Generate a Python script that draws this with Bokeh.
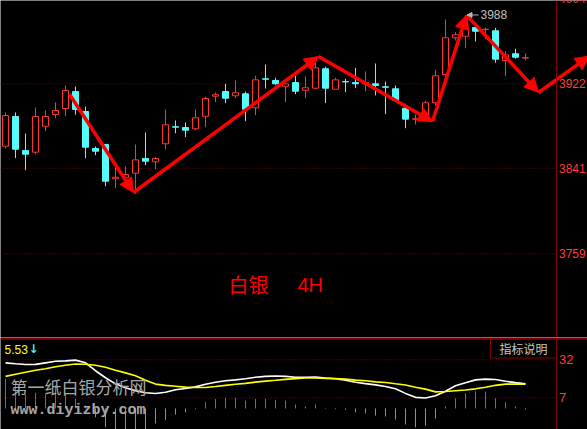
from bokeh.plotting import figure
from bokeh.layouts import column
from bokeh.models import Range1d, Span, Label, Arrow, NormalHead, ColumnDataSource
from bokeh.core.properties import value
from bokeh.embed import file_html
from bokeh.resources import INLINE

# ---- silver, 4-hour candles -------------------------------------------------
opens = [3862.2, 3890.6, 3858.0, 3856.4, 3881.3, 3892.6, 3898.3, 3914.6, 3895.4, 3860.0,
         3863.8, 3830.9, 3831.9, 3836.3, 3850.4, 3847.2, 3864.5, 3880.8, 3880.1, 3878.9,
         3890.9, 3910.1, 3914.6, 3910.5, 3912.4, 3899.0, 3926.8, 3925.2, 3919.7, 3923.2,
         3915.9, 3917.8, 3936.4, 3916.8, 3924.2, 3923.2, 3922.0, 3922.0, 3919.1, 3917.2,
         3898.6, 3888.0, 3891.6, 3903.8, 3930.9, 3966.1, 3967.6, 3976.0, 3973.9, 3972.8,
         3944.3, 3950.8, 3946.7]
highs = [3894.5, 3894.5, 3874.3, 3899.3, 3896.4, 3904.1, 3920.4, 3919.4, 3900.2, 3861.9,
         3864.5, 3842.0, 3842.7, 3863.8, 3875.3, 3851.6, 3897.4, 3886.8, 3884.9, 3897.4,
         3909.8, 3913.7, 3922.0, 3925.2, 3914.6, 3929.7, 3940.5, 3927.8, 3922.6, 3929.7,
         3929.0, 3944.3, 3938.3, 3927.8, 3926.8, 3937.3, 3933.8, 3941.5, 3924.2, 3920.4,
         3902.8, 3892.6, 3905.7, 3935.4, 3983.7, 3971.5, 3988.0, 3976.5, 3976.0, 3975.7,
         3953.3, 3955.6, 3951.3]
lows = [3860.0, 3850.7, 3839.2, 3854.5, 3876.6, 3889.0, 3890.9, 3892.3, 3850.7, 3853.5,
        3823.8, 3821.9, 3827.1, 3816.5, 3844.0, 3840.1, 3859.3, 3874.6, 3870.8, 3877.5,
        3880.4, 3904.4, 3903.4, 3908.2, 3886.1, 3891.9, 3917.5, 3921.0, 3904.4, 3912.0,
        3908.2, 3916.8, 3903.4, 3916.5, 3913.9, 3917.8, 3914.9, 3910.8, 3892.9, 3905.0,
        3879.4, 3883.0, 3886.8, 3901.2, 3928.3, 3963.5, 3956.1, 3962.6, 3965.1, 3942.1,
        3929.3, 3946.0, 3944.3]
closes = [3891.6, 3859.3, 3854.5, 3890.6, 3890.6, 3896.4, 3915.6, 3897.4, 3861.2, 3857.4,
          3828.6, 3832.4, 3835.0, 3849.1, 3847.8, 3850.4, 3882.7, 3880.4, 3877.5, 3889.4,
          3907.9, 3911.5, 3908.2, 3913.4, 3897.6, 3925.8, 3926.4, 3922.0, 3922.0, 3914.9,
          3918.2, 3937.3, 3917.8, 3925.8, 3923.8, 3922.0, 3923.2, 3920.4, 3918.7, 3906.0,
          3888.1, 3888.5, 3903.8, 3929.7, 3966.1, 3969.0, 3976.0, 3972.4, 3974.3, 3945.6,
          3949.8, 3947.5, 3947.1]

price_ticks = [3759, 3841, 3922, 4004]

# swing (zigzag) pivots: bar position, price
zz_x = [6.4, 12.8, 31.3, 42.7, 46.1, 53.3, 58.4]
zz_y = [3912.0, 3817.8, 3948.2, 3885.8, 3988.0, 3913.7, 3948.6]

# ---- oscillator panel ---------------------------------------------------------
osc_fast = [30.0, 29.4, 28.9, 29.0, 30.0, 31.0, 31.3, 31.8, 30.0, 24.8,
            20.2, 16.2, 13.6, 11.6, 10.3, 9.8, 10.6, 12.3, 13.1, 14.2,
            15.9, 17.2, 18.2, 18.8, 19.5, 20.5, 21.1, 21.3, 21.1, 20.5,
            20.5, 20.6, 20.0, 19.5, 18.5, 17.2, 16.3, 15.5, 14.4, 12.9,
            9.9, 7.3, 6.9, 8.3, 11.3, 14.9, 16.9, 18.8, 19.3, 19.0,
            17.9, 17.0, 16.2]
osc_slow = [21.1, 22.5, 23.8, 25.1, 26.1, 27.4, 28.4, 29.2, 29.1, 28.4,
            27.1, 25.1, 23.4, 21.5, 18.5, 16.0, 15.2, 14.6, 14.0, 13.8,
            13.8, 14.4, 15.2, 15.9, 16.5, 17.3, 18.0, 18.5, 19.1, 19.6,
            20.0, 20.0, 19.8, 19.6, 19.3, 18.6, 18.2, 17.5, 17.1, 16.2,
            15.4, 13.9, 12.7, 10.9, 11.1, 11.6, 12.1, 12.9, 13.9, 15.2,
            16.0, 16.0, 16.0]
osc_hist = [19.5, 17.2, 9.1, 10.3, 9.1, 15.1, 9.6, 6.3, 2.0, -5.8,
            -12.4, -17.0, -19.0, -19.5, -17.5, -9.9, -7.5, -4.0, -2.5, -0.5,
            4.1, 6.3, 7.0, 7.0, 5.2, 6.3, 6.3, 5.7, 5.2, 2.6,
            1.3, 2.6, -0.3, -0.5, -0.9, -2.5, -3.2, -4.7, -5.3, -7.3,
            -10.6, -12.4, -11.3, -6.6, 1.3, 6.7, 10.0, 11.3, 11.1, 6.7,
            4.1, 1.3, -0.7]
osc_ticks = [7, 32]
osc_readout = "5.53"

# ---- layout and colours ---------------------------------------------------------
W, H_MAIN, H_OSC = 587, 337, 92
AXIS_PX = 556
UP, DOWN = "#ff3434", "#54fcfc"
AXIS_RED, LABEL_RED = "#840000", "#ff3c3c"


def xi(px):
    """bar position for a horizontal pixel (bars are 10 px apart, first at 5 px)"""
    return (px - 5) / 10.0


def price_at(py):
    return 3922 - (py - 83.3) * 163.0 / 170.0


def osc_at(py):
    return 7 + (397.3 - py) / 1.52


def base_fig(height, y0, y1):
    f = figure(width=W, height=height, output_backend="svg", toolbar_location=None,
               x_axis_location=None, y_axis_location=None, title=None,
               x_range=Range1d(xi(0), xi(W)), y_range=Range1d(y0, y1),
               background_fill_color="black", border_fill_color="black",
               outline_line_color=None, min_border=0)
    f.grid.visible = False
    return f


# ================= price panel =================
p = base_fig(H_MAIN, price_at(H_MAIN), price_at(0))

n = len(opens)
xs = list(range(n))
up = [c >= o for o, c in zip(opens, closes)]
src_up = ColumnDataSource(dict(
    x=[x for x, u in zip(xs, up) if u],
    high=[h for h, u in zip(highs, up) if u],
    low=[l for l, u in zip(lows, up) if u],
    top=[max(o, c) for o, c, u in zip(opens, closes, up) if u],
    bottom=[min(o, c) for o, c, u in zip(opens, closes, up) if u]))
src_dn = ColumnDataSource(dict(
    x=[x for x, u in zip(xs, up) if not u],
    high=[h for h, u in zip(highs, up) if not u],
    low=[l for l, u in zip(lows, up) if not u],
    top=[max(o, c) for o, c, u in zip(opens, closes, up) if not u],
    bottom=[min(o, c) for o, c, u in zip(opens, closes, up) if not u]))

# dotted price grid
p.segment(x0=[xi(0)] * len(price_ticks), x1=[xi(AXIS_PX)] * len(price_ticks),
          y0=price_ticks, y1=price_ticks, line_color=AXIS_RED, line_width=1,
          line_dash="1 2")

p.segment(x0="x", x1="x", y0="high", y1="low", source=src_dn, line_color=DOWN, line_width=1)
p.vbar(x="x", width=0.6, top="top", bottom="bottom", source=src_dn,
       fill_color=DOWN, line_color=DOWN, line_width=1)
p.segment(x0="x", x1="x", y0="high", y1="low", source=src_up, line_color=UP, line_width=1)
p.vbar(x="x", width=0.6, top="top", bottom="bottom", source=src_up,
       fill_color="black", line_color=UP, line_width=1)

# swing arrows
zz_src = ColumnDataSource(dict(x0=zz_x[:-1], y0=zz_y[:-1], x1=zz_x[1:], y1=zz_y[1:]))
p.add_layout(Arrow(x_start="x0", y_start="y0", x_end="x1", y_end="y1", source=zz_src,
                   line_color="#ff0000", line_width=3.5,
                   end=NormalHead(size=14, fill_color="#ff0000", line_color="#ff0000")))

# peak marker
peak_i = highs.index(max(highs))
peak = highs[peak_i]
p.add_layout(Arrow(x_start=xi(478), y_start=peak, x_end=peak_i + 0.15, y_end=peak,
                   line_color="#b4b4b4", line_width=1,
                   end=NormalHead(size=5, fill_color="#b4b4b4", line_color="#b4b4b4")))
p.add_layout(Label(x=xi(480), y=peak, text=f"{peak:.0f}", text_color="#c0c0c0",
                   text_font="Liberation Sans", text_font_size="12px",
                   text_baseline="middle"))

# right axis
p.add_layout(Span(location=xi(AXIS_PX), dimension="height", line_color=AXIS_RED, line_width=1))
p.text(x=[xi(558.5)] * len(price_ticks), y=price_ticks, text=[str(t) for t in price_ticks],
       text_color=LABEL_RED, text_font=value("Liberation Sans"), text_font_size="12px",
       text_baseline="middle", text_align="left")

# caption
p.add_layout(Label(x=xi(228), y=price_at(283.5), text="白银", text_color="#ff0000",
                   text_font="Noto Sans CJK SC", text_font_size="20px",
                   text_baseline="middle"))
p.add_layout(Label(x=xi(297), y=price_at(284.5), text="4H", text_color="#ff0000",
                   text_font="Liberation Sans", text_font_size="20px",
                   text_baseline="middle"))

# ================= oscillator panel =================
q = base_fig(H_OSC, osc_at(337 + H_OSC), osc_at(337))

q.segment(x0=[xi(0)] * len(osc_ticks), x1=[xi(AXIS_PX)] * len(osc_ticks),
          y0=osc_ticks, y1=osc_ticks, line_color=AXIS_RED, line_width=1, line_dash="1 2")

hist_src = ColumnDataSource(dict(
    x=xs, base=[0.0] * n, v=osc_hist,
    color=[UP if h >= 0 else "#22dd22" for h in osc_hist]))
q.segment(x0="x", x1="x", y0="base", y1="v", source=hist_src, line_color="color", line_width=1)

q.line(xs, osc_fast, line_color="white", line_width=1.6)
q.line(xs, osc_slow, line_color="#ffff00", line_width=1.6)

q.add_layout(Span(location=osc_at(338.3), dimension="width", line_color=AXIS_RED, line_width=2))
q.add_layout(Span(location=xi(AXIS_PX), dimension="height", line_color=AXIS_RED, line_width=1))
q.quad(left=[xi(490)], right=[xi(AXIS_PX)], top=[osc_at(338.3)], bottom=[osc_at(357.5)],
       fill_color=None, line_color=AXIS_RED, line_width=1)
q.add_layout(Label(x=xi(523), y=osc_at(348), text="指标说明", text_color="#c8c8c8",
                   text_font="Noto Sans CJK SC", text_font_size="12px",
                   text_align="center", text_baseline="middle"))

q.text(x=[xi(558.5)] * len(osc_ticks), y=osc_ticks, text=[str(t) for t in osc_ticks],
       text_color=LABEL_RED, text_font=value("Liberation Sans"), text_font_size="13px",
       text_baseline="middle", text_align="left")

q.add_layout(Label(x=xi(4), y=osc_at(348.5), text=osc_readout, text_color="#ffff00",
                   text_font="Liberation Sans", text_font_size="12px",
                   text_baseline="middle"))
q.add_layout(Label(x=xi(28), y=osc_at(348.5), text="↓", text_color="#3ef0ff",
                   text_font="DejaVu Sans", text_font_size="12px", text_font_style="bold",
                   text_baseline="middle"))

# site watermark
q.add_layout(Label(x=xi(10), y=osc_at(386), text="第一纸白银分析网", text_color="#a8a8a8",
                   text_font="Noto Sans CJK SC", text_font_size="17px",
                   text_baseline="middle"))
q.add_layout(Label(x=xi(10), y=osc_at(409.5), text="www.diyizby.com", text_color="#a8a8a8",
                   text_font="Liberation Mono", text_font_size="15px", text_font_style="bold",
                   text_baseline="middle"))

layout = column(p, q)
open("out.html", "w").write(file_html(layout, INLINE))
